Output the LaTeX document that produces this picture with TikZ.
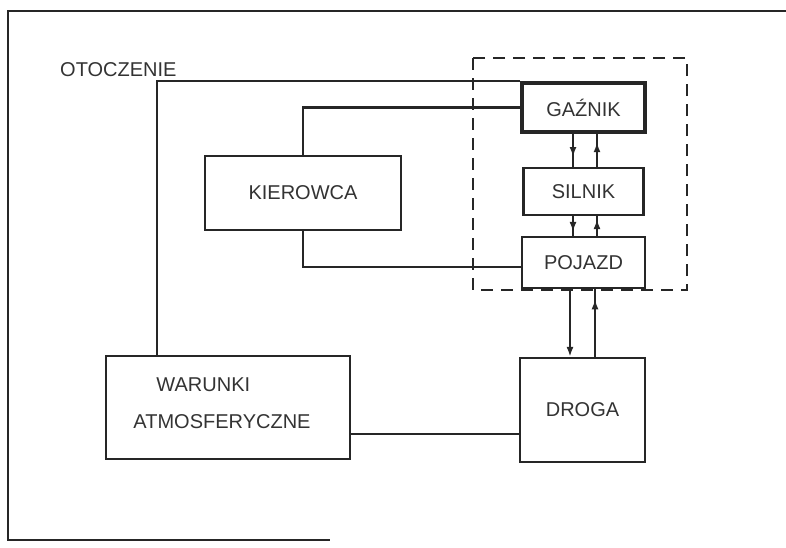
\documentclass[tikz,border=0pt]{standalone}
\usepackage{fontspec}
\setmainfont{Liberation Sans}
\usetikzlibrary{arrows.meta,calc}
\definecolor{ink}{HTML}{262626}
\definecolor{txt}{HTML}{333333}
\tikzset{
  blk/.style={draw=ink, line width=2.2pt, text=txt, inner sep=0pt,
              font=\fontsize{20}{38}\selectfont},
  lbl/.style={text=txt, inner sep=0pt, font=\fontsize{20}{37}\selectfont},
  conn/.style={draw=ink, line width=2.2pt},
  headed/.style={draw=ink, line width=2.2pt, -{Latex[length=10pt,width=7pt]}},
  sysframe/.style={draw=ink, line width=2pt, dash pattern=on 12pt off 8pt},
}
\begin{document}
\begin{tikzpicture}[x=1pt,y=-1pt]
\useasboundingbox (0,0) rectangle (786,547);
% page frame
\draw[conn] (786,11) -- (8,11) -- (8,540) -- (330,540);
% label
\node[lbl, anchor=west] (otoczenie) at (60,70) {OTOCZENIE};
% system boundary
\draw[sysframe] (473,58) rectangle (687,290);
% blocks
\node[blk, line width=3.8pt, minimum width=123pt, minimum height=49pt] (gaznik) at (583.5,107.5) {GAŹNIK};
\node[blk, minimum width=120pt, minimum height=47pt] (silnik) at (583.5,191.5) {SILNIK};
\node[blk, minimum width=123pt, minimum height=51pt] (pojazd) at (583.5,262.5) {POJAZD};
\node[blk, minimum width=196pt, minimum height=74pt] (kierowca) at (303,193) {KIEROWCA};
\node[blk, minimum width=244pt, minimum height=103pt] (warunki) at (228,407.5) {};
\node[lbl, align=left] (warunkitxt) at (222,403.5) {\hspace*{23pt}WARUNKI\\ATMOSFERYCZNE};
\node[blk, minimum width=125pt, minimum height=104pt] (droga) at (582.5,410) {DROGA};
% connector end points
\coordinate (gs1) at ([xshift=-10.5pt]gaznik.south);
\coordinate (gs2) at ([xshift=13.5pt]gaznik.south);
\coordinate (sn1) at (gs1 |- silnik.north);
\coordinate (sn2) at (gs2 |- silnik.north);
\coordinate (ss1) at (gs1 |- silnik.south);
\coordinate (ss2) at (gs2 |- silnik.south);
\coordinate (pn1) at (gs1 |- pojazd.north);
\coordinate (pn2) at (gs2 |- pojazd.north);
\coordinate (ps1) at ([xshift=-13.5pt]pojazd.south);
\coordinate (ps2) at ([xshift=11.5pt]pojazd.south);
\coordinate (dn1) at (ps1 |- droga.north);
\coordinate (dn2) at (ps2 |- droga.north);
% gaznik <-> silnik
\draw[conn] (gs1) -- (sn1);
\draw[headed] (gs1) -- ($(gs1)!0.7!(sn1)$);
\draw[conn] (sn2) -- (gs2);
\draw[headed] (sn2) -- ($(sn2)!0.75!(gs2)$);
% silnik <-> pojazd
\draw[conn] (ss1) -- (pn1);
\draw[headed] (ss1) -- ($(ss1)!0.8!(pn1)$);
\draw[conn] (pn2) -- (ss2);
\draw[headed] (pn2) -- ($(pn2)!0.85!(ss2)$);
% pojazd <-> droga
\draw[headed] (ps1) -- (dn1);
\draw[conn] (dn2) -- (ps2);
\draw[headed] (dn2) -- ($(dn2)!0.85!(ps2)$);
% kierowca links
\draw[conn] (kierowca.north) |- (gaznik.west);
\coordinate (p1) at ([yshift=-4.5pt]pojazd.west);
\draw[conn] (kierowca.south) |- (p1);
% warunki links
\coordinate (w0) at ([xshift=-71pt]warunki.north);
\draw[conn] (w0) |- (gaznik.north west);
\coordinate (w1) at ([yshift=-26.5pt]warunki.east);
\draw[conn] (w1) -- (w1 -| droga.west);
\end{tikzpicture}
\end{document}
